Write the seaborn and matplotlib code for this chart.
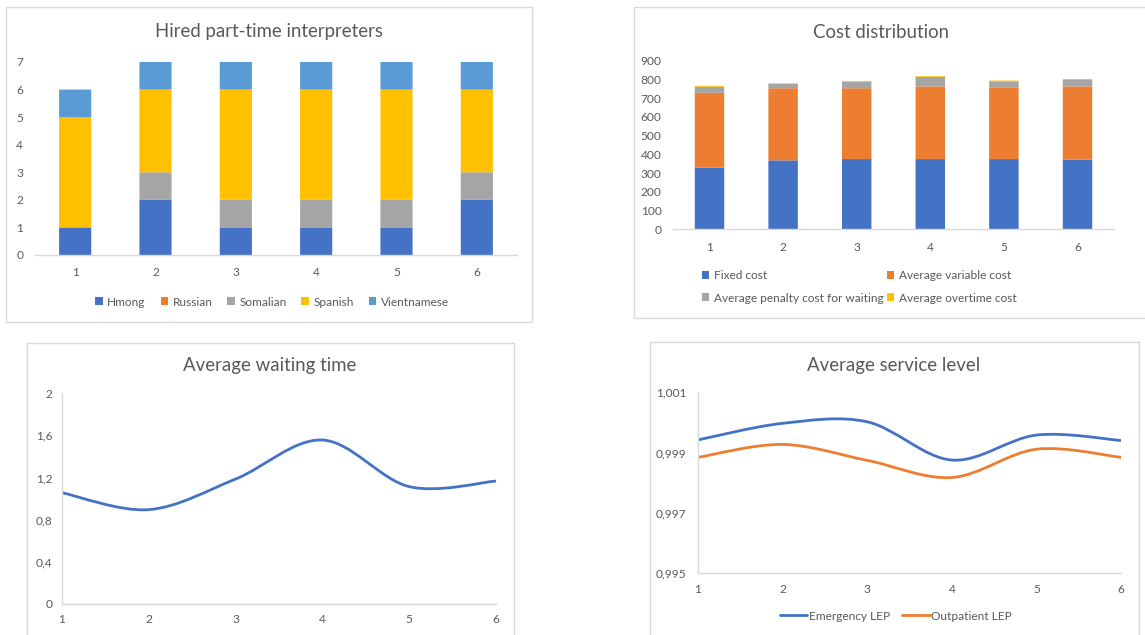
import numpy as np
import pandas as pd
import matplotlib
matplotlib.use("Agg")
import matplotlib.pyplot as plt
import seaborn as sns
from matplotlib.path import Path
from matplotlib.patches import PathPatch, Rectangle, Patch
from matplotlib.lines import Line2D
from matplotlib.ticker import FixedLocator, FixedFormatter

# ---------------- data ----------------
scenarios = ["1", "2", "3", "4", "5", "6"]

languages = ["Hmong", "Russian", "Somalian", "Spanish", "Vientnamese"]
hmong = [1, 2, 1, 1, 1, 2]
russian = [0, 0, 0, 0, 0, 0]
somalian = [0, 1, 1, 1, 1, 1]
spanish = [4, 3, 4, 4, 4, 3]
vientnamese = [1, 1, 1, 1, 1, 1]

cost_names = ["Fixed cost", "Average variable cost",
              "Average penalty cost for waiting", "Average overtime cost"]
fixed_cost = [329, 368, 375, 375, 375, 372]
variable_cost = [400, 385, 378, 388, 383, 391]
penalty_cost = [32, 23, 35, 50, 32, 34]
overtime_cost = [5, 3, 4, 4, 4, 5]

waiting_time = [1.055, 0.894, 1.185, 1.556, 1.113, 1.166]

service_names = ["Emergency LEP", "Outpatient LEP"]
emergency_lep = [0.99942, 0.99997, 1.00002, 0.99875, 0.99958, 0.99940]
outpatient_lep = [0.99884, 0.99927, 0.99874, 0.99817, 0.99911, 0.99884]

wait_ticks = [0, 0.4, 0.8, 1.2, 1.6, 2]
wait_labels = ["0", "0,4", "0,8", "1,2", "1,6", "2"]
service_ticks = [0.995, 0.997, 0.999, 1.001]
service_labels = ["0,995", "0,997", "0,999", "1,001"]

# ---------------- style ----------------
BLUE, ORANGE, GRAY, YELLOW, LBLUE = "#4472C4", "#ED7D31", "#A5A5A5", "#FFC000", "#5B9BD5"
TXT = "#595959"
LINE = "#D9D9D9"

sns.set_theme(style="white")
plt.rcParams["font.family"] = ["Lato", "DejaVu Sans"]

W, H = 1145, 635
fig = plt.figure(figsize=(W / 100, H / 100), dpi=100)
fig.patch.set_facecolor("white")


def add_ax(x0, y0, x1, y1):
    return fig.add_axes([x0 / W, 1 - y1 / H, (x1 - x0) / W, (y1 - y0) / H])


def border(x0, y0, x1, y1):
    fig.add_artist(Rectangle((x0 / W, 1 - y1 / H), (x1 - x0) / W, (y1 - y0) / H,
                             transform=fig.transFigure, fill=False,
                             edgecolor=LINE, lw=1.0))


def title(x, y, s):
    fig.text(x / W, 1 - y / H, s, ha="center", va="center", color=TXT, fontsize=13.4)


def smooth_path(xs, ys):
    pts = np.column_stack([xs, ys]).astype(float)
    n = len(pts)
    verts = [pts[0]]
    codes = [Path.MOVETO]
    for i in range(n - 1):
        p0 = pts[i - 1] if i > 0 else pts[i]
        p1, p2 = pts[i], pts[i + 1]
        p3 = pts[i + 2] if i + 2 < n else pts[i + 1]
        verts += [p1 + (p2 - p0) / 6, p2 - (p3 - p1) / 6, p2]
        codes += [Path.CURVE4] * 3
    return Path(verts, codes)


def style_axes(ax, left_spine):
    for s in ["top", "right"]:
        ax.spines[s].set_visible(False)
    ax.spines["left"].set_visible(left_spine)
    ax.spines["bottom"].set_color(LINE)
    ax.spines["left"].set_color(LINE)
    ax.spines["bottom"].set_linewidth(1.0)
    ax.spines["left"].set_linewidth(1.0)
    ax.tick_params(length=0, colors=TXT, labelsize=8.6)
    ax.set_xlabel("")
    ax.set_ylabel("")
    ax.set_facecolor("none")


def stacked(ax, layers, colors):
    bottom = np.zeros(len(scenarios))
    for vals, c in zip(layers, colors):
        sns.barplot(x=scenarios, y=vals, bottom=bottom, color=c, width=0.4,
                    saturation=1, errorbar=None, linewidth=0, snap=False, ax=ax)
        bottom = bottom + np.asarray(vals, dtype=float)


# ---------------- panel 1: hired interpreters ----------------
border(6, 7, 532, 322)
ax1 = add_ax(35, 62, 517, 255)
lang_colors = [BLUE, ORANGE, GRAY, YELLOW, LBLUE]
stacked(ax1, [hmong, russian, somalian, spanish, vientnamese], lang_colors)
ax1.set_xlim(-0.5, 5.5)
ax1.set_ylim(0, 7)
ax1.set_yticks(range(0, 8))
style_axes(ax1, False)
ax1.tick_params(axis="y", pad=8.5)
ax1.tick_params(axis="x", pad=9)
title(269, 32, "Hired part-time interpreters")
fig.legend(handles=[Patch(facecolor=c, edgecolor="none", label=l)
                    for c, l in zip(lang_colors, languages)],
           loc="center", bbox_to_anchor=(272 / W, 1 - 302 / H), ncol=5,
           frameon=False, fontsize=8.6, handlelength=0.65, handleheight=0.65,
           handletextpad=0.35, columnspacing=1.25, borderpad=0, labelcolor=TXT)

# ---------------- panel 2: cost distribution ----------------
border(634, 7, 1150, 318)
ax2 = add_ax(672.7, 60.7, 1114.3, 229.3)
cost_colors = [BLUE, ORANGE, GRAY, YELLOW]
stacked(ax2, [fixed_cost, variable_cost, penalty_cost, overtime_cost], cost_colors)
ax2.set_xlim(-0.5, 5.5)
ax2.set_ylim(0, 900)
ax2.set_yticks(range(0, 901, 100))
style_axes(ax2, False)
ax2.tick_params(axis="y", pad=8)
ax2.tick_params(axis="x", pad=9)
title(881, 32, "Cost distribution")
ch = [Patch(facecolor=c, edgecolor="none", label=l) for c, l in zip(cost_colors, cost_names)]
fig.legend(handles=[ch[0], ch[2], ch[1], ch[3]],
           loc="center", bbox_to_anchor=(859 / W, 1 - 287 / H), ncol=2,
           frameon=False, fontsize=8.6, handlelength=0.65, handleheight=0.65,
           handletextpad=0.35, columnspacing=0.3, labelspacing=0.95,
           borderpad=0, labelcolor=TXT)

# ---------------- panel 3: average waiting time ----------------
border(27, 343, 514, 640)
ax3 = add_ax(62, 393.3, 496, 603.7)
xs = np.arange(1, len(scenarios) + 1)
ax3.add_patch(PathPatch(smooth_path(xs, waiting_time), facecolor="none",
                        edgecolor=BLUE, lw=2.0, capstyle="round"))
ax3.set_xlim(1, 6)
ax3.set_ylim(0, 2)
ax3.xaxis.set_major_locator(FixedLocator(xs))
ax3.xaxis.set_major_formatter(FixedFormatter(scenarios))
ax3.yaxis.set_major_locator(FixedLocator(wait_ticks))
ax3.yaxis.set_major_formatter(FixedFormatter(wait_labels))
style_axes(ax3, True)
ax3.tick_params(axis="y", pad=7)
ax3.tick_params(axis="x", pad=7.5)
title(270, 366, "Average waiting time")

# ---------------- panel 4: average service level ----------------
border(650, 342, 1139, 640)
ax4 = add_ax(698, 392.3, 1121, 573)
for vals, c in zip([emergency_lep, outpatient_lep], [BLUE, ORANGE]):
    ax4.add_patch(PathPatch(smooth_path(xs, vals), facecolor="none",
                            edgecolor=c, lw=2.0, capstyle="round"))
ax4.set_xlim(1, 6)
ax4.set_ylim(0.995, 1.001)
ax4.xaxis.set_major_locator(FixedLocator(xs))
ax4.xaxis.set_major_formatter(FixedFormatter(scenarios))
ax4.yaxis.set_major_locator(FixedLocator(service_ticks))
ax4.yaxis.set_major_formatter(FixedFormatter(service_labels))
style_axes(ax4, True)
ax4.tick_params(axis="y", pad=8.5)
ax4.tick_params(axis="x", pad=8)
title(894, 365, "Average service level")
fig.legend(handles=[Line2D([], [], color=c, lw=2.0, label=l)
                    for c, l in zip([BLUE, ORANGE], service_names)],
           loc="center", bbox_to_anchor=(896 / W, 1 - 616 / H), ncol=2,
           frameon=False, fontsize=8.6, handlelength=2.3, handletextpad=0.15,
           columnspacing=1.0, borderpad=0, labelcolor=TXT)

fig.savefig("out.png", dpi=100, facecolor="white")
